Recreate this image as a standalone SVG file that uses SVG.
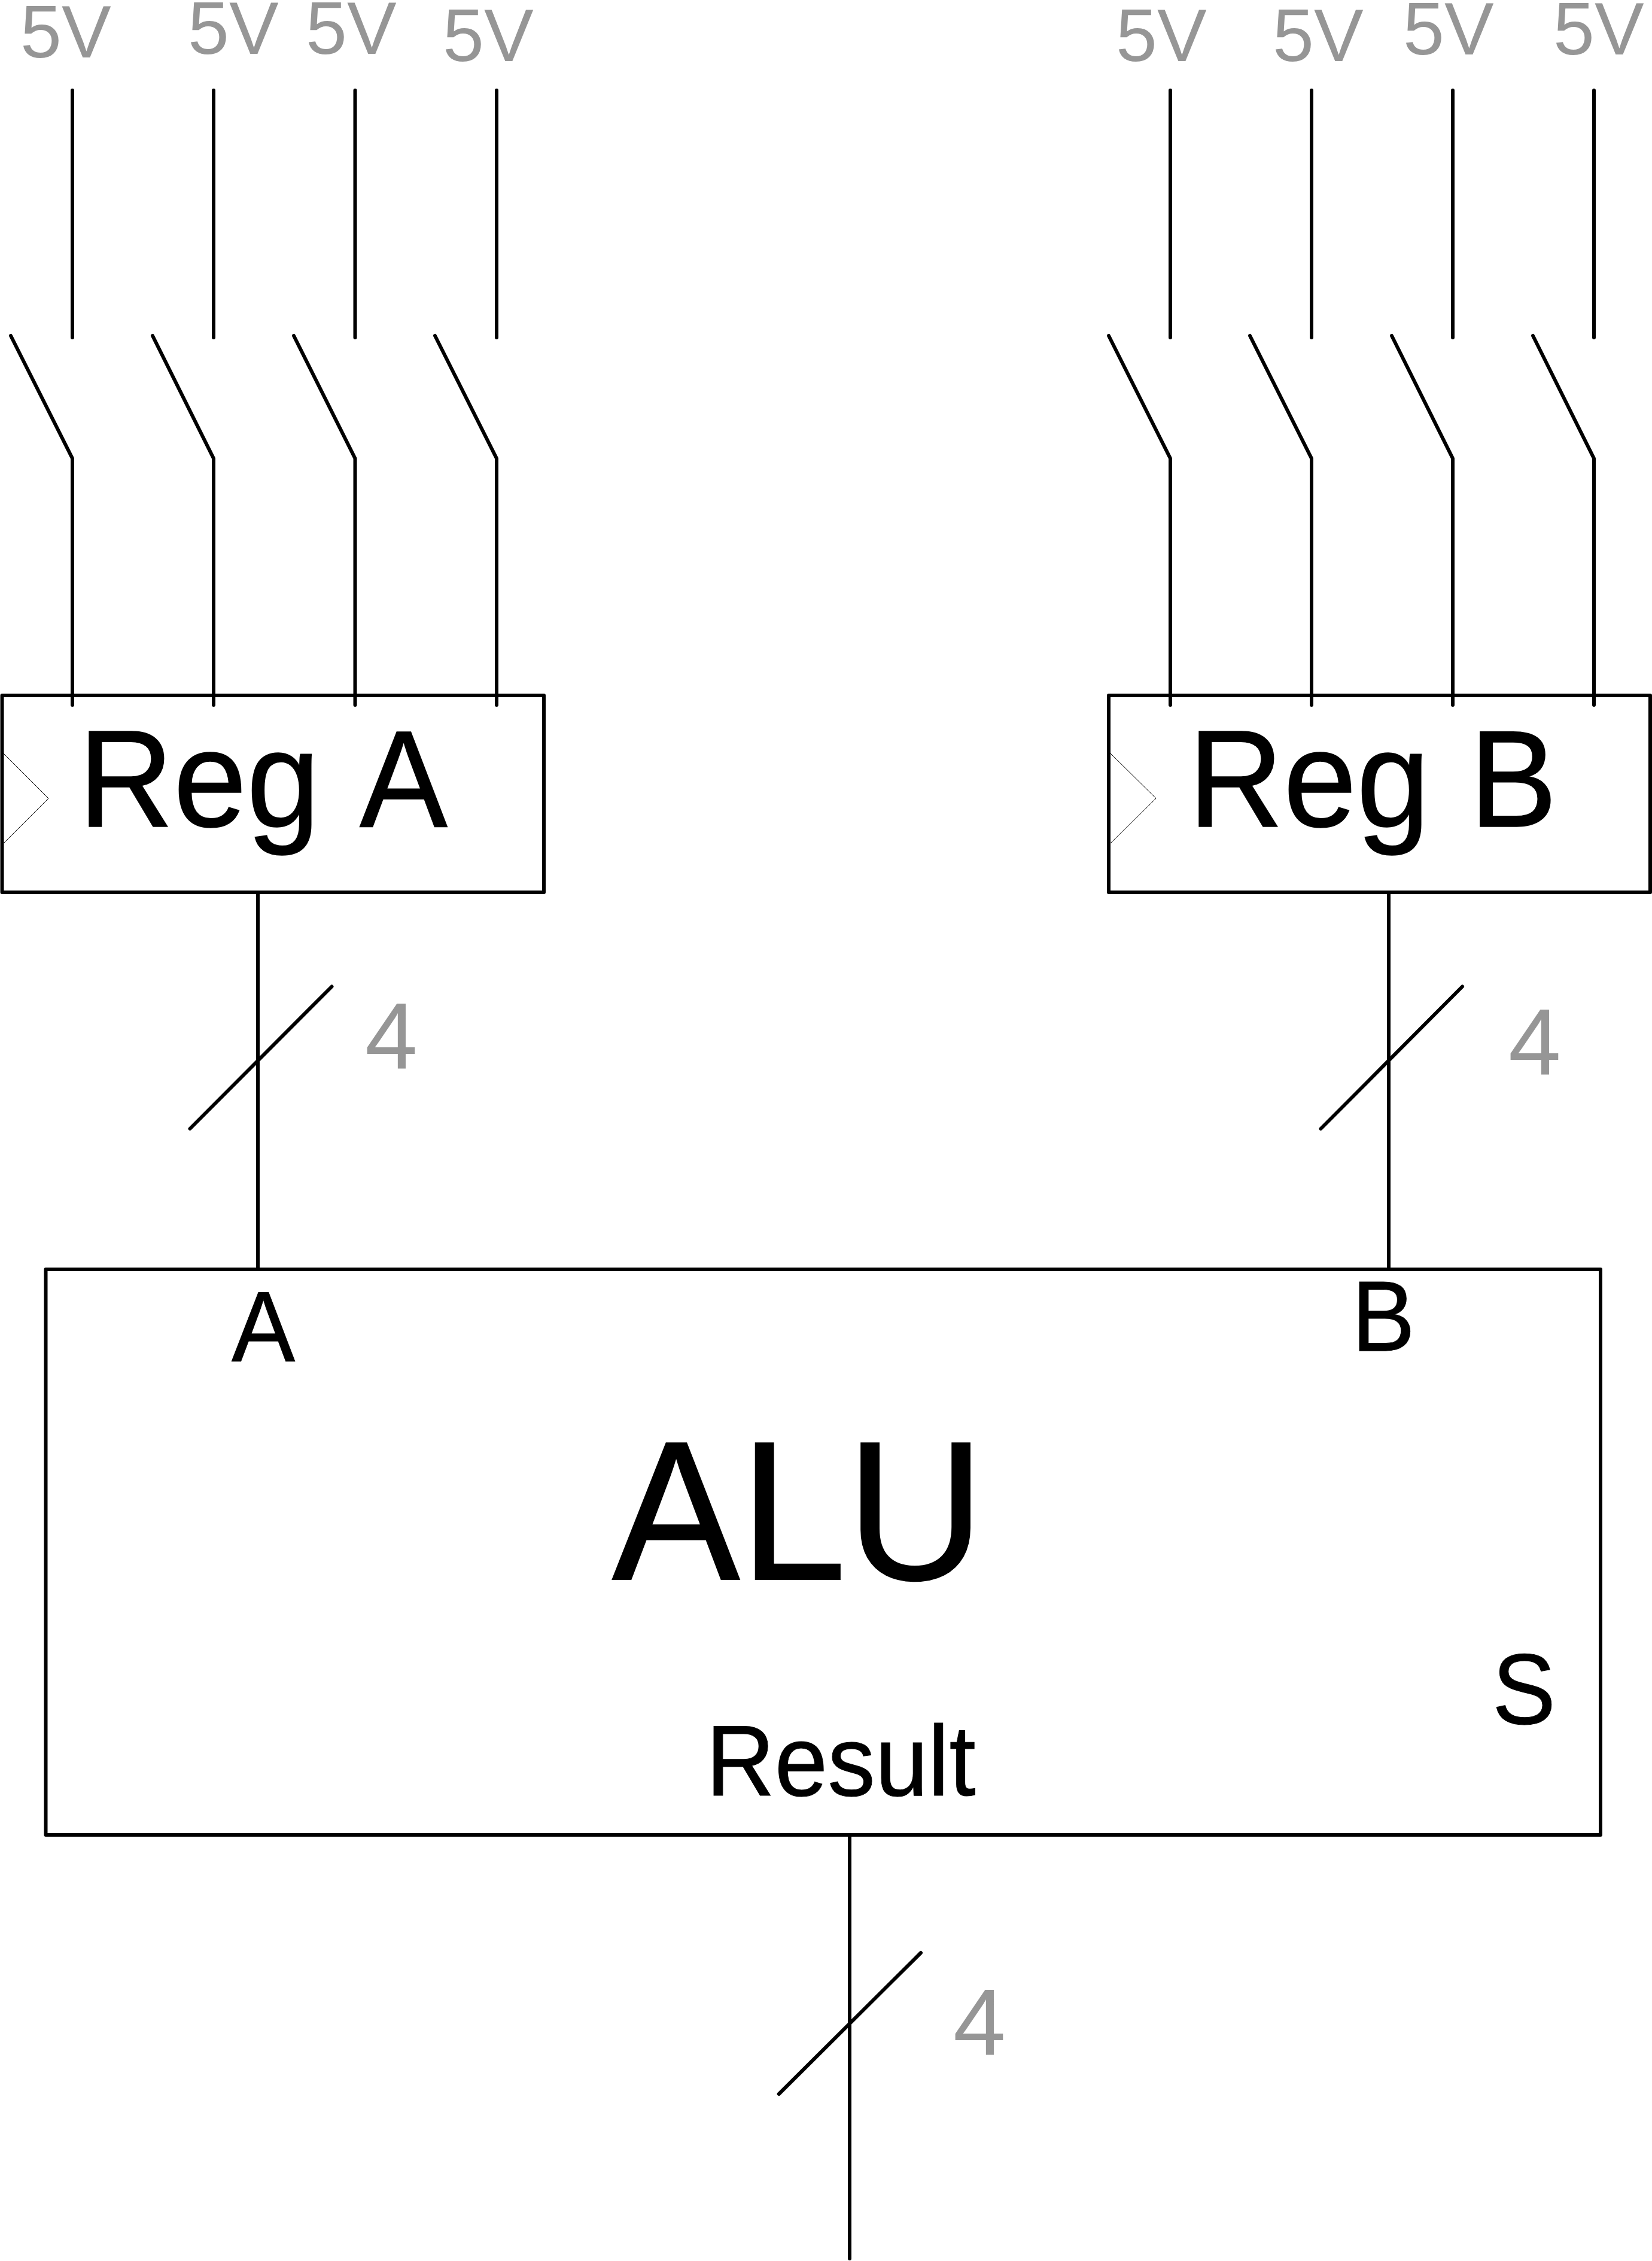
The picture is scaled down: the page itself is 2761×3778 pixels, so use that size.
<svg xmlns="http://www.w3.org/2000/svg" width="2761" height="3778" viewBox="0 0 2761 3778">
<style>
.w{fill:none;stroke:#000;stroke-width:6;stroke-linecap:round;stroke-linejoin:round}
.box{fill:none;stroke:#000;stroke-width:6;stroke-linejoin:round}
.clk{fill:none;stroke:#000;stroke-width:1}
text{font-family:"Liberation Sans",Arial,sans-serif;fill:#000}
.v{font-size:124px;fill:#969696}
.n{font-size:158px;fill:#969696}
.reg{font-size:230px;stroke:#000;stroke-width:1.5px}
.port{font-size:167px;stroke:#000;stroke-width:1px}
.alu{font-size:331px;stroke:#000;stroke-width:2px}
</style>
<rect width="2761" height="3778" fill="#fff"/>
<g id="connectors">
<path class="w" d="M121 151V564M18 561L121 766V1178"/>
<path class="w" d="M357 151V564M255 561L357 766V1178"/>
<path class="w" d="M593.500 151V564M491 561L593.500 766V1178"/>
<path class="w" d="M830 151V564M727 561L830 766V1178"/>
<path class="w" d="M1956 151V564M1853 561L1956 766V1178"/>
<path class="w" d="M2192 151V564M2089 561L2192 766V1178"/>
<path class="w" d="M2428 151V564M2326 561L2428 766V1178"/>
<path class="w" d="M2664 151V564M2562 561L2664 766V1178"/>
<path class="w" d="M431 1491V2121"/>
<path class="w" d="M554.500 1648.500L317.500 1886"/>
<path class="w" d="M2321 1491V2121"/>
<path class="w" d="M2444 1648.500L2207.500 1886"/>
<path class="w" d="M1420 3066V3774"/>
<path class="w" d="M1539 3263L1301.700 3499"/>
</g>
<g id="reg-a">
<rect class="box" x="3.500" y="1162" width="905.500" height="329"/>
<path class="clk" d="M5 1258L81 1334L5 1410"/>
<text class="reg" transform="translate(131 1381) scale(.957 1)" word-spacing="18">Reg A</text>
</g>
<g id="reg-b">
<rect class="box" x="1853" y="1162" width="905" height="329"/>
<path class="clk" d="M1855 1258L1932 1334L1855 1410"/>
<text class="reg" transform="translate(1986 1381) scale(.957 1)" word-spacing="5">Reg B</text>
</g>
<g id="alu">
<rect class="box" x="76.500" y="2121" width="2598.500" height="945"/>
<text class="alu" transform="translate(1023 2639) scale(.967 1)">ALU</text>
<text class="port" transform="translate(387 2275) scale(.952 1)">A</text>
<text class="port" transform="translate(2259 2257) scale(.952 1)">B</text>
<text class="port" transform="translate(2494 2880) scale(.952 1)">S</text>
<text class="port" transform="translate(1180 3000) scale(.952 1)">Result</text>
</g>
<g id="labels">
<text class="v" x="34" y="96">5V</text>
<text class="v" x="314" y="90">5V</text>
<text class="v" x="511" y="90">5V</text>
<text class="v" x="740" y="102">5V</text>
<text class="v" x="1865" y="102">5V</text>
<text class="v" x="2127" y="102">5V</text>
<text class="v" x="2345" y="91">5V</text>
<text class="v" x="2596" y="91">5V</text>
<text class="n" x="610" y="1786">4</text>
<text class="n" x="2521" y="1796">4</text>
<text class="n" x="1593" y="3434">4</text>
</g>
</svg>
